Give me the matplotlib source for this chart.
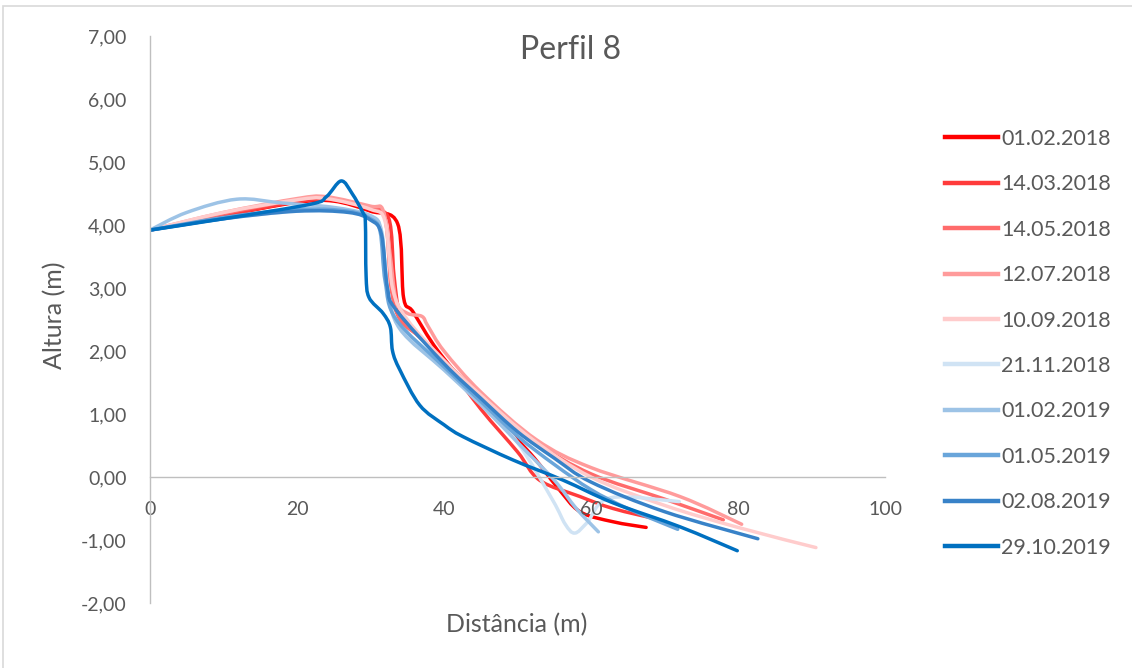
import numpy as np
import matplotlib.pyplot as plt
from matplotlib.path import Path
from matplotlib.patches import PathPatch, Rectangle
from matplotlib.lines import Line2D

plt.rcParams['font.family'] = ['Lato', 'DejaVu Sans']

# dados dos perfis (distância em m, altura em m)
labels = ['01.02.2018', '14.03.2018', '14.05.2018', '12.07.2018', '10.09.2018',
          '21.11.2018', '01.02.2019', '01.05.2019', '02.08.2019', '29.10.2019']
colors = ['#FF0000', '#FF3B3B', '#FF6B6B', '#FF9B9B', '#FFCCCC',
          '#D0E3F4', '#9DC3E6', '#69A5DA', '#3882C8', '#0070C0']

x_0102_18 = [0, 10, 20, 25, 30, 33.7, 34.5, 35.8, 39.2, 45, 51.7, 55.4, 58.5, 63, 67.5]
y_0102_18 = [3.92, 4.15, 4.36, 4.38, 4.22, 4.02, 2.85, 2.62, 2.0, 1.2, 0.38, -0.16, -0.55, -0.71, -0.80]

x_1403_18 = [0, 10, 20, 25, 30, 32.5, 33.2, 34, 36, 40, 45, 50, 53, 58.5, 63, 69]
y_1403_18 = [3.92, 4.15, 4.37, 4.4, 4.25, 4.1, 3.2, 2.6, 2.3, 1.85, 1.08, 0.4, -0.05, -0.31, -0.5, -0.67]

x_1405_18 = [0, 10, 20, 24, 30, 32, 32.8, 34, 37, 40, 45, 52.6, 60, 70, 78]
y_1405_18 = [3.92, 4.18, 4.4, 4.43, 4.28, 4.1, 3.0, 2.5, 2.2, 1.85, 1.3, 0.55, 0.05, -0.35, -0.68]

x_1207_18 = [0, 10, 20, 24, 30, 31.7, 32.6, 33.5, 35, 37, 37.8, 40, 45, 52.6, 60, 72.1, 80.5]
y_1207_18 = [3.92, 4.2, 4.42, 4.45, 4.3, 4.24, 3.6, 2.8, 2.6, 2.55, 2.4, 2.0, 1.35, 0.59, 0.15, -0.31, -0.75]

x_1009_18 = [0, 10, 20, 24, 30, 32, 33, 35, 40, 45, 52, 60, 70, 80, 90.6]
y_1009_18 = [3.92, 4.2, 4.4, 4.42, 4.25, 4.05, 3.0, 2.5, 1.85, 1.3, 0.6, 0.0, -0.45, -0.8, -1.12]

x_2111_18 = [0, 10, 20, 27, 30, 31.5, 32.3, 34, 40, 45, 50, 54.8, 56.5, 57.8, 59.5, 62.6, 72]
y_2111_18 = [3.92, 4.1, 4.22, 4.22, 4.1, 3.9, 3.0, 2.4, 1.75, 1.2, 0.55, -0.37, -0.75, -0.89, -0.72, -0.33, -0.39]

x_0102_19 = [0, 5, 11.8, 18, 25, 30, 31.5, 32.3, 34, 40, 45, 50, 55, 58, 61]
y_0102_19 = [3.92, 4.2, 4.41, 4.35, 4.28, 4.15, 3.9, 3.0, 2.35, 1.7, 1.15, 0.55, -0.05, -0.5, -0.87]

x_0105_19 = [0, 10, 20, 27, 30, 31.3, 32, 33.5, 40, 45, 50, 55, 60, 65, 71.8]
y_0105_19 = [3.92, 4.12, 4.25, 4.22, 4.1, 3.9, 3.1, 2.5, 1.75, 1.2, 0.65, 0.2, -0.2, -0.5, -0.83]

x_0208_19 = [0, 10, 20, 27, 30, 31.5, 32.3, 33.5, 40, 45, 50, 55, 60, 70, 82.7]
y_0208_19 = [3.92, 4.1, 4.22, 4.2, 4.08, 3.85, 3.0, 2.65, 1.8, 1.25, 0.72, 0.3, -0.08, -0.55, -0.98]

x_2910_19 = [0, 10, 21.8, 24, 26, 27.5, 29, 29.3, 29.4, 29.8, 31.7, 32.7, 33, 34, 36.7, 40, 42.6, 49.4, 56.2, 63, 72.1, 79.9]
y_2910_19 = [3.92, 4.1, 4.33, 4.45, 4.7, 4.5, 4.19, 4.05, 3.2, 2.85, 2.6, 2.38, 2.0, 1.7, 1.14, 0.83, 0.64, 0.27, -0.05, -0.41, -0.79, -1.17]

xs = [x_0102_18, x_1403_18, x_1405_18, x_1207_18, x_1009_18,
      x_2111_18, x_0102_19, x_0105_19, x_0208_19, x_2910_19]
ys = [y_0102_18, y_1403_18, y_1405_18, y_1207_18, y_1009_18,
      y_2111_18, y_0102_19, y_0105_19, y_0208_19, y_2910_19]


def smooth_path(x, y):
    """linha suavizada estilo Excel (Catmull-Rom -> Bezier)"""
    p = np.column_stack([x, y]).astype(float)
    n = len(p)
    verts = [p[0]]
    codes = [Path.MOVETO]
    for i in range(n - 1):
        p0 = p[i - 1] if i > 0 else p[i]
        p1 = p[i]
        p2 = p[i + 1]
        p3 = p[i + 2] if i + 2 < n else p[i + 1]
        c1 = p1 + (p2 - p0) / 6.0
        c2 = p2 - (p3 - p1) / 6.0
        verts += [c1, c2, p2]
        codes += [Path.CURVE4] * 3
    return Path(verts, codes)


fig = plt.figure(figsize=(11.32, 6.68), dpi=100)
ax = fig.add_axes([0.1325, 0.0973, 0.6493, 0.8487])

for x, y, c in zip(xs, ys, colors):
    patch = PathPatch(smooth_path(x, y), facecolor='none', edgecolor=c,
                      linewidth=2.5, capstyle='round', joinstyle='round')
    ax.add_patch(patch)

ax.set_xlim(0, 100)
ax.set_ylim(-2, 7)
ax.set_xticks(range(0, 101, 20))
ax.set_yticks(np.arange(-2, 7.01, 1))
ax.set_yticklabels([f'{v:.2f}'.replace('.', ',') for v in np.arange(-2, 7.01, 1)])

for s in ['top', 'right']:
    ax.spines[s].set_visible(False)
ax.spines['left'].set_position(('data', 0))
ax.spines['bottom'].set_position(('data', 0))
ax.spines['left'].set_color('#BFBFBF')
ax.spines['bottom'].set_color('#BFBFBF')
ax.spines['left'].set_linewidth(1.0)
ax.spines['bottom'].set_linewidth(1.0)
ax.tick_params(length=0, labelsize=14, colors='#595959')
ax.tick_params(axis='y', pad=17)
ax.tick_params(axis='x', pad=17)

fig.text(0.5044, 0.925, 'Perfil 8', fontsize=23, color='#595959', ha='center', va='center')
fig.text(0.4567, 0.0644, 'Distância (m)', fontsize=18, color='#595959', ha='center', va='center')
fig.text(0.0486, 0.528, 'Altura (m)', fontsize=18, color='#595959', ha='center', va='center', rotation=90)

handles = [Line2D([], [], color=c, linewidth=3.2) for c in colors]
fig.legend(handles, labels, loc='upper left', bbox_to_anchor=(0.818, 0.836),
           frameon=False, fontsize=15.5, labelcolor='#595959', borderpad=0.4,
           handlelength=2.45, handletextpad=0.15, labelspacing=1.18)

fig.patches.append(Rectangle((3 / 1132, -0.05), 1.1, 1 - 6 / 668 + 0.05, transform=fig.transFigure,
                             fill=False, edgecolor='#D9D9D9', linewidth=1.2))

fig.savefig('out.png', dpi=100)
